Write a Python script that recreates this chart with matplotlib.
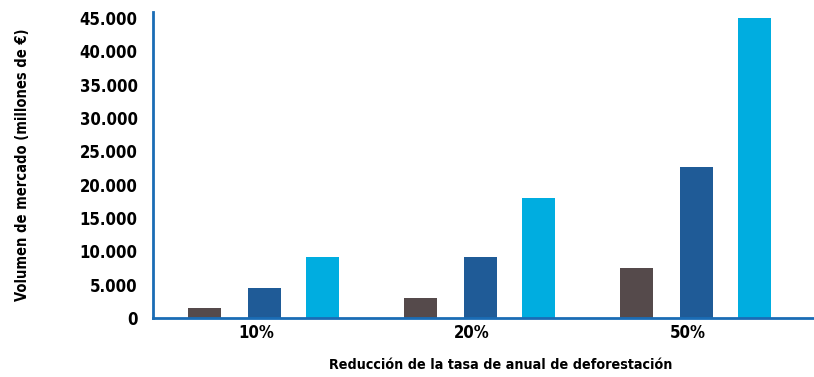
import matplotlib.pyplot as plt
import numpy as np

categories = ['10%', '20%', '50%']
serie_gris = [1550, 3000, 7500]
serie_azul = [4550, 9150, 22700]
serie_celeste = [9200, 18000, 45000]
ytick_vals = [0, 5000, 10000, 15000, 20000, 25000, 30000, 35000, 40000, 45000]
ytick_labels = ['0', '5.000', '10.000', '15.000', '20.000', '25.000',
                '30.000', '35.000', '40.000', '45.000']

plt.rcParams['font.family'] = ['DejaVu Sans']
plt.rcParams['font.stretch'] = 'condensed'

fig = plt.figure(figsize=(8.14, 3.77), dpi=100)
ax = fig.add_axes([153 / 814, 59 / 377, 1 - 153 / 814, (318 - 12) / 377])

x = np.arange(len(categories))
w = 0.153
ax.bar(x - 0.278, serie_gris, w, color='#554a4b')
ax.bar(x, serie_azul, w, color='#1f5b97')
ax.bar(x + 0.268, serie_celeste, w, color='#00ade0')

ax.set_xlim(-0.516, 2.544)
ax.set_ylim(0, 45900)

# Spines
for s in ['top', 'right']:
    ax.spines[s].set_visible(False)
for s in ['left', 'bottom']:
    ax.spines[s].set_color('#1a6cb5')
    ax.spines[s].set_linewidth(2)

ax.set_yticks(ytick_vals)
ax.set_yticklabels(ytick_labels, fontsize=12, fontweight='bold')
ax.tick_params(axis='y', length=0, pad=11)
ax.set_yticks([0], minor=True)
ax.tick_params(axis='y', which='minor', length=4, width=2, color='#1a6cb5')

ax.set_xticks(x - 0.04)
ax.set_xticklabels(categories, fontsize=12, fontweight='bold')
ax.tick_params(axis='x', length=0, pad=4)

ax.set_ylabel('Volumen de mercado (millones de €)', fontsize=10.5,
              fontweight='bold')
ax.yaxis.set_label_coords((30 - 153) / 661, (318 - 165) / 306)
ax.set_xlabel('Reducción de la tasa de anual de deforestación', fontsize=10.3,
              fontweight='bold')
ax.xaxis.set_label_coords((501 - 153) / 661, -40 / 306)

fig.savefig('out.png', dpi=100)
